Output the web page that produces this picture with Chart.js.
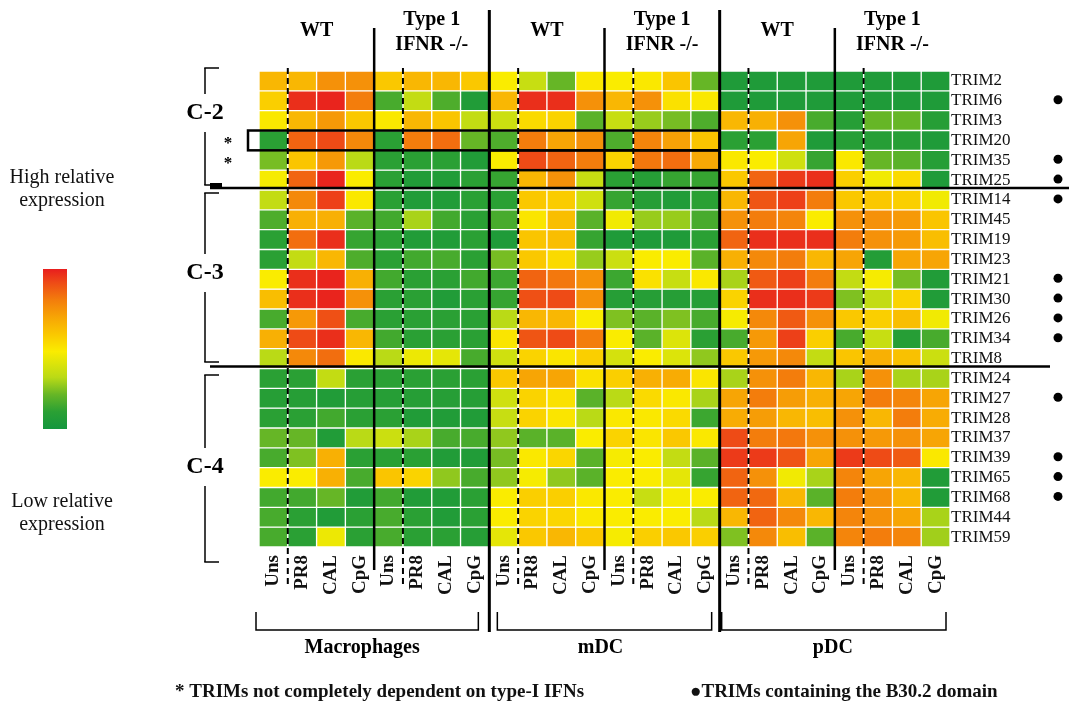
<!DOCTYPE html>
<html>
<head>
<meta charset="utf-8">
<script src="https://cdn.jsdelivr.net/npm/chart.js@4.4.1/dist/chart.umd.min.js"></script>
<style>
  html, body { margin: 0; padding: 0; background: #fff; }
  canvas { display: block; }
</style>
</head>
<body>
<canvas id="heat" width="1069" height="706"></canvas>
<script>
// rows of the heatmap (top to bottom)
var trims = ['TRIM2', 'TRIM6', 'TRIM3', 'TRIM20', 'TRIM35', 'TRIM25',
  'TRIM14', 'TRIM45', 'TRIM19', 'TRIM23', 'TRIM21', 'TRIM30', 'TRIM26', 'TRIM34', 'TRIM8',
  'TRIM24', 'TRIM27', 'TRIM28', 'TRIM37', 'TRIM39', 'TRIM65', 'TRIM68', 'TRIM44', 'TRIM59'];
var stimuli = ['Uns', 'PR8', 'CAL', 'CpG'];
var genotypes = ['WT', 'Type 1|IFNR -/-'];
var cellTypes = ['Macrophages', 'mDC', 'pDC'];
var clusters = ['C-2', 'C-3', 'C-4'];
var b302 = ['TRIM6', 'TRIM35', 'TRIM25', 'TRIM14', 'TRIM21', 'TRIM30', 'TRIM26', 'TRIM34',
  'TRIM27', 'TRIM39', 'TRIM65', 'TRIM68'];
var notIfnDependent = ['TRIM20', 'TRIM35'];

// relative expression, 0 = low (green) .. 9.3 = high (red)
// each row: WT Uns, PR8, CAL, CpG, IFNR-/- Uns, PR8, CAL, CpG
var macrophageValues = [
  [6, 6, 7, 7, 5.5, 6, 6, 5.5],
  [5.3, 9, 9.2, 7.5, 1.5, 3.2, 1.6, 0.6],
  [4.6, 6, 6.8, 5.5, 4.6, 6, 5.6, 3.2],
  [1, 8, 8.5, 7.2, 1, 7.5, 7.8, 2],
  [2.2, 5.6, 6.8, 3, 1, 1, 1, 0.6],
  [4.4, 8, 9.2, 4.5, 1, 0.6, 0.6, 1],
  [3.2, 7.2, 8.7, 4.6, 1, 0.6, 0.6, 1],
  [1.6, 6.2, 6.2, 1.8, 1.4, 2.8, 1.4, 1],
  [1, 7.8, 9, 1.2, 1, 0.6, 0.6, 1],
  [1, 3.2, 6, 1.6, 1, 1.4, 1.5, 1],
  [4.5, 9, 9.2, 6.2, 1.4, 1, 1, 1.4],
  [5.8, 9, 9.2, 7, 1, 1, 0.6, 1],
  [1.5, 6.8, 8.4, 1.5, 1, 1, 1, 1],
  [6.2, 8.5, 9, 6, 1.4, 1, 1, 1],
  [3, 7.2, 7.8, 4.6, 3, 4.2, 4, 1.5],
  [1, 1, 3.2, 1, 1, 1, 1, 1],
  [0.8, 0.8, 0.6, 0.8, 0.8, 0.8, 0.8, 0.8],
  [1, 1, 1.4, 1, 1, 0.6, 0.6, 0.6],
  [2, 2, 0.6, 3, 3.4, 2.8, 1.5, 1.5],
  [1.5, 2.3, 6.2, 1, 1, 1, 0.6, 0.6],
  [4.5, 4.5, 6.2, 1.5, 5.6, 5.2, 2.5, 1.5],
  [1.4, 1.4, 2, 0.6, 1.4, 0.6, 0.6, 1],
  [1.5, 1, 0.6, 1, 1.5, 1, 0.6, 1],
  [1.5, 1, 4.2, 1, 1.5, 1, 1, 0.8]
];
var mdcValues = [
  [4.5, 3.3, 2, 4.6, 4.5, 4.6, 5.6, 2],
  [6, 9, 9, 7, 6, 7, 4.8, 4.6],
  [3.4, 5, 5.2, 1.8, 3.3, 2.6, 2.2, 1.6],
  [1.6, 7.5, 6.5, 7, 1.6, 7.3, 6.6, 5.6],
  [4.5, 8.5, 8, 7.5, 5.2, 7.6, 7.8, 6.4],
  [1.2, 6, 7, 3.3, 1, 0.8, 1.2, 1.2],
  [1, 5.5, 5.4, 3.5, 1.2, 0.8, 0.6, 1],
  [1.5, 4.7, 5.8, 1.8, 4.3, 2.6, 2.6, 1.5],
  [0.5, 5.6, 5.8, 1.2, 0.5, 0.5, 0.5, 1],
  [2.2, 5.5, 5, 2.6, 3.4, 4.5, 4.5, 1.8],
  [1.3, 8, 7.6, 7, 1.3, 4.8, 3.3, 4.6],
  [1.2, 8.4, 8.5, 7, 0.8, 0.8, 0.8, 0.8],
  [3, 6, 6, 4.5, 2.3, 1.8, 2.3, 1.5],
  [4.7, 8.3, 8.5, 7.5, 4.5, 1.8, 3.8, 1],
  [3.5, 5.2, 4.7, 5.3, 3.6, 4.5, 3.8, 2.5],
  [5.5, 6.5, 6.5, 4.8, 5.3, 6.2, 6.3, 4.7],
  [3.5, 5.2, 4.8, 1.8, 3, 5, 4.6, 2.8],
  [3.3, 5.2, 4.7, 3, 4.6, 4.6, 5, 1.3],
  [2.5, 1.8, 1.8, 4.5, 5.2, 4.7, 5.5, 4.6],
  [2.2, 4.6, 5.1, 1.8, 4.4, 4.5, 3.2, 1.8],
  [2.5, 4.4, 2.5, 1.8, 4.5, 4.5, 4, 1.2],
  [4.5, 5.3, 5.3, 4.6, 4.5, 3.3, 4.4, 4.5],
  [4.5, 5.2, 5.1, 4.6, 4.5, 4.5, 4.5, 3],
  [4, 5.5, 6, 5.5, 4.4, 5.3, 5.5, 5.3]
];
var pdcValues = [
  [0.5, 0.5, 0.5, 0.5, 0.5, 0.5, 0.5, 0.5],
  [0.5, 0.5, 0.5, 0.5, 0.5, 0.5, 0.5, 0.5],
  [6, 6.2, 7, 1.5, 0.8, 2, 2, 0.8],
  [1, 1, 6.5, 0.5, 0.8, 0.8, 0.8, 0.5],
  [4.6, 4.5, 3.5, 1.2, 4.6, 2, 1.8, 0.8],
  [5.5, 8, 8.8, 9, 5.3, 4.3, 5, 0.5],
  [6, 8.3, 8.7, 7.5, 5.5, 5.5, 5.3, 4.3],
  [7, 7.5, 7.3, 4.5, 7, 7, 6.8, 5.6],
  [8, 9, 9, 9, 7.5, 7, 6.8, 5.8],
  [6.2, 7.2, 7.5, 6, 6.5, 0.7, 6.5, 6.5],
  [2.8, 8.2, 8.7, 7.5, 3.2, 4.4, 2.2, 0.6],
  [5.2, 9, 9, 8.8, 2.3, 3.2, 5.2, 0.6],
  [4.4, 7.2, 8.2, 7, 5.5, 5.3, 5.8, 4.3],
  [1.5, 6.8, 8.7, 5.3, 1.5, 3.3, 0.8, 1.5],
  [5.5, 6.8, 7.2, 3.2, 5.6, 6.2, 5.7, 3.4],
  [2.8, 7, 7.5, 6, 2.8, 7, 2.8, 2.8],
  [6.5, 7.5, 6.7, 6.2, 6.5, 7.5, 7.3, 6.5],
  [6.3, 6.7, 6, 5.8, 7, 6, 7.5, 6.3],
  [8.5, 7.5, 7.6, 7, 7, 6.8, 7, 6.5],
  [8.8, 8.8, 8.3, 6.5, 8.8, 8.5, 8.2, 4.6],
  [8, 7, 4.3, 2.8, 7.3, 6.5, 6, 0.6],
  [8, 7.9, 6, 1.8, 7.5, 7, 6, 0.6],
  [6, 8, 7.2, 6, 7.3, 7, 6.5, 2.8],
  [2.3, 7.2, 5.8, 1.8, 7.3, 7.5, 7.3, 2.7]
];

var colorStops = [
  [0, [20, 150, 62]], [1, [42, 160, 52]], [2, [102, 182, 38]], [3, [186, 218, 22]],
  [4.5, [250, 236, 0]], [5.5, [250, 200, 0]], [6.5, [247, 165, 5]], [7.5, [243, 125, 12]],
  [8.5, [238, 75, 22]], [9.3, [232, 30, 30]]
];
function colorFor(v) {
  if (v <= colorStops[0][0]) return 'rgb(' + colorStops[0][1].join(',') + ')';
  for (var i = 1; i < colorStops.length; i++) {
    if (v <= colorStops[i][0]) {
      var a = colorStops[i - 1], b = colorStops[i];
      var t = (v - a[0]) / (b[0] - a[0]);
      var c = a[1].map(function (x, k) { return Math.round(x + (b[1][k] - x) * t); });
      return 'rgb(' + c.join(',') + ')';
    }
  }
  return 'rgb(' + colorStops[colorStops.length - 1][1].join(',') + ')';
}

var serif = '"Liberation Serif", "Times New Roman", serif';
var columns = [];
cellTypes.forEach(function () {
  genotypes.forEach(function () { stimuli.forEach(function (s) { columns.push(s); }); });
});

var datasets = trims.map(function (name, r) {
  var vals = macrophageValues[r].concat(mdcValues[r], pdcValues[r]);
  return {
    label: name,
    data: vals.map(function () { return [r, r + 1]; }),
    backgroundColor: vals.map(colorFor),
    borderColor: '#fff',
    borderWidth: 1,
    borderSkipped: false,
    grouped: false,
    barPercentage: 1,
    categoryPercentage: 1,
    yAxisID: 'yv'
  };
});

var overlay = {
  id: 'overlay',
  afterDraw: function (chart) {
    var ctx = chart.ctx;
    var xs = chart.scales.x, yv = chart.scales.yv;
    var cw = (xs.right - xs.left) / columns.length;
    var colEdge = function (i) { return xs.left + i * cw; };
    var rowEdge = function (r) { return yv.getPixelForValue(r); };
    var rh = rowEdge(1) - rowEdge(0);
    ctx.save();
    ctx.strokeStyle = '#000';
    ctx.fillStyle = '#000';

    function line(x1, y1, x2, y2, w) {
      ctx.lineWidth = w;
      ctx.beginPath(); ctx.moveTo(x1, y1); ctx.lineTo(x2, y2); ctx.stroke();
    }

    // separators between cell types and genotypes
    [8, 16].forEach(function (i) { line(colEdge(i), 10, colEdge(i), 632, 3); });
    [4, 12, 20].forEach(function (i) { line(colEdge(i), 28, colEdge(i), 570, 2.5); });
    ctx.setLineDash([6, 4]);
    [1, 5, 9, 13, 17, 21].forEach(function (i) { line(colEdge(i), 68, colEdge(i), 588, 2); });
    ctx.setLineDash([]);

    // cluster separators
    line(210, rowEdge(6) - 2, 1069, rowEdge(6) - 2, 2.5);
    line(210, rowEdge(15) - 2, 1050, rowEdge(15) - 2, 2.5);

    // boxed rows
    ctx.lineWidth = 2.5;
    var r20 = trims.indexOf('TRIM20'), r35 = trims.indexOf('TRIM35');
    ctx.strokeRect(248, rowEdge(r20), colEdge(16) - 248, rh);
    ctx.strokeRect(colEdge(8), rowEdge(r35), colEdge(16) - colEdge(8), rh);

    // genotype headers
    ctx.font = 'bold 20px ' + serif;
    ctx.textAlign = 'center';
    ctx.textBaseline = 'middle';
    for (var g = 0; g < cellTypes.length * genotypes.length; g++) {
      var cx = (colEdge(g * 4) + colEdge(g * 4 + 4)) / 2;
      var parts = genotypes[g % 2].split('|');
      if (parts.length === 1) ctx.fillText(parts[0], cx, 31);
      else { ctx.fillText(parts[0], cx, 20); ctx.fillText(parts[1], cx, 45); }
    }

    // cell type brackets
    var inL = [-3, 8, 2], inR = [-11, -8, -4], shift = [-12, -4, -2];
    cellTypes.forEach(function (name, k) {
      var l = colEdge(k * 8) + inL[k], r = colEdge(k * 8 + 8) + inR[k];
      ctx.lineWidth = 1.5;
      ctx.beginPath();
      ctx.moveTo(l, 612); ctx.lineTo(l, 630); ctx.lineTo(r, 630); ctx.lineTo(r, 612);
      ctx.stroke();
      ctx.fillText(name, (colEdge(k * 8) + colEdge(k * 8 + 8)) / 2 + shift[k], 648);
    });

    // cluster brackets on the left
    var bTop = [68, 193, 375], bBottom = [185, 362, 562], labelY = [113, 273, 467];
    ctx.font = 'bold 24px ' + serif;
    clusters.forEach(function (name, k) {
      line(205, bTop[k], 205, labelY[k] - 19, 1.5);
      line(205, labelY[k] + 19, 205, bBottom[k], 1.5);
      line(204.25, bTop[k], 219, bTop[k], 1.5);
      line(204.25, bBottom[k], 219, bBottom[k], 1.5);
      ctx.fillText(name, 205, labelY[k]);
    });
    line(210, bBottom[0], 222, bBottom[0], 4);

    // asterisks
    ctx.font = 'bold 17px ' + serif;
    notIfnDependent.forEach(function (t) {
      var r = trims.indexOf(t);
      ctx.fillText('*', 228, rowEdge(r) + rh / 2 + 3);
    });

    // B30.2 bullets
    b302.forEach(function (t) {
      var r = trims.indexOf(t);
      ctx.beginPath();
      ctx.arc(1058, rowEdge(r) + rh / 2 - 1, 4.5, 0, Math.PI * 2);
      ctx.fill();
    });

    // colour key
    var grad = ctx.createLinearGradient(0, 269, 0, 429);
    var vmax = colorStops[colorStops.length - 1][0];
    colorStops.slice().reverse().forEach(function (s) {
      grad.addColorStop((vmax - s[0]) / vmax, colorFor(s[0]));
    });
    ctx.fillStyle = grad;
    ctx.fillRect(43, 269, 24, 160);
    ctx.fillStyle = '#111';
    ctx.font = '20px ' + serif;
    ctx.fillText('High relative', 62, 178);
    ctx.fillText('expression', 62, 201);
    ctx.fillText('Low relative', 62, 502);
    ctx.fillText('expression', 62, 525);

    // footnotes
    ctx.font = 'bold 19px ' + serif;
    ctx.textAlign = 'left';
    ctx.fillText('* TRIMs not completely dependent on type-I IFNs', 175, 692);
    ctx.fillText('\u25CFTRIMs containing the B30.2 domain', 690, 692);
    ctx.restore();
  }
};

var ctx = document.getElementById('heat').getContext('2d');
var heatChart = new Chart(ctx, {
  type: 'bar',
  data: { labels: columns, datasets: datasets },
  options: {
    responsive: false,
    animation: false,
    layout: { padding: { left: 259, top: 71, right: 0, bottom: 0 } },
    plugins: { legend: { display: false }, tooltip: { enabled: false } },
    scales: {
      x: {
        type: 'category',
        offset: true,
        grid: { display: false, drawTicks: false },
        border: { display: false },
        ticks: {
          autoSkip: false, maxRotation: 90, minRotation: 90, padding: 8,
          color: '#111', font: { family: serif, size: 19, weight: 'bold' }
        },
        afterFit: function (s) { s.height = 159; }
      },
      yv: { type: 'linear', min: 0, max: 24, reverse: true, display: false },
      y: {
        type: 'category',
        position: 'right',
        labels: trims,
        offset: true,
        grid: { display: false, drawTicks: false },
        border: { display: false },
        ticks: { autoSkip: false, padding: 1, color: '#111', font: { family: serif, size: 17 } },
        afterFit: function (s) { s.width = 119; }
      }
    }
  },
  plugins: [overlay]
});
</script>
</body>
</html>
